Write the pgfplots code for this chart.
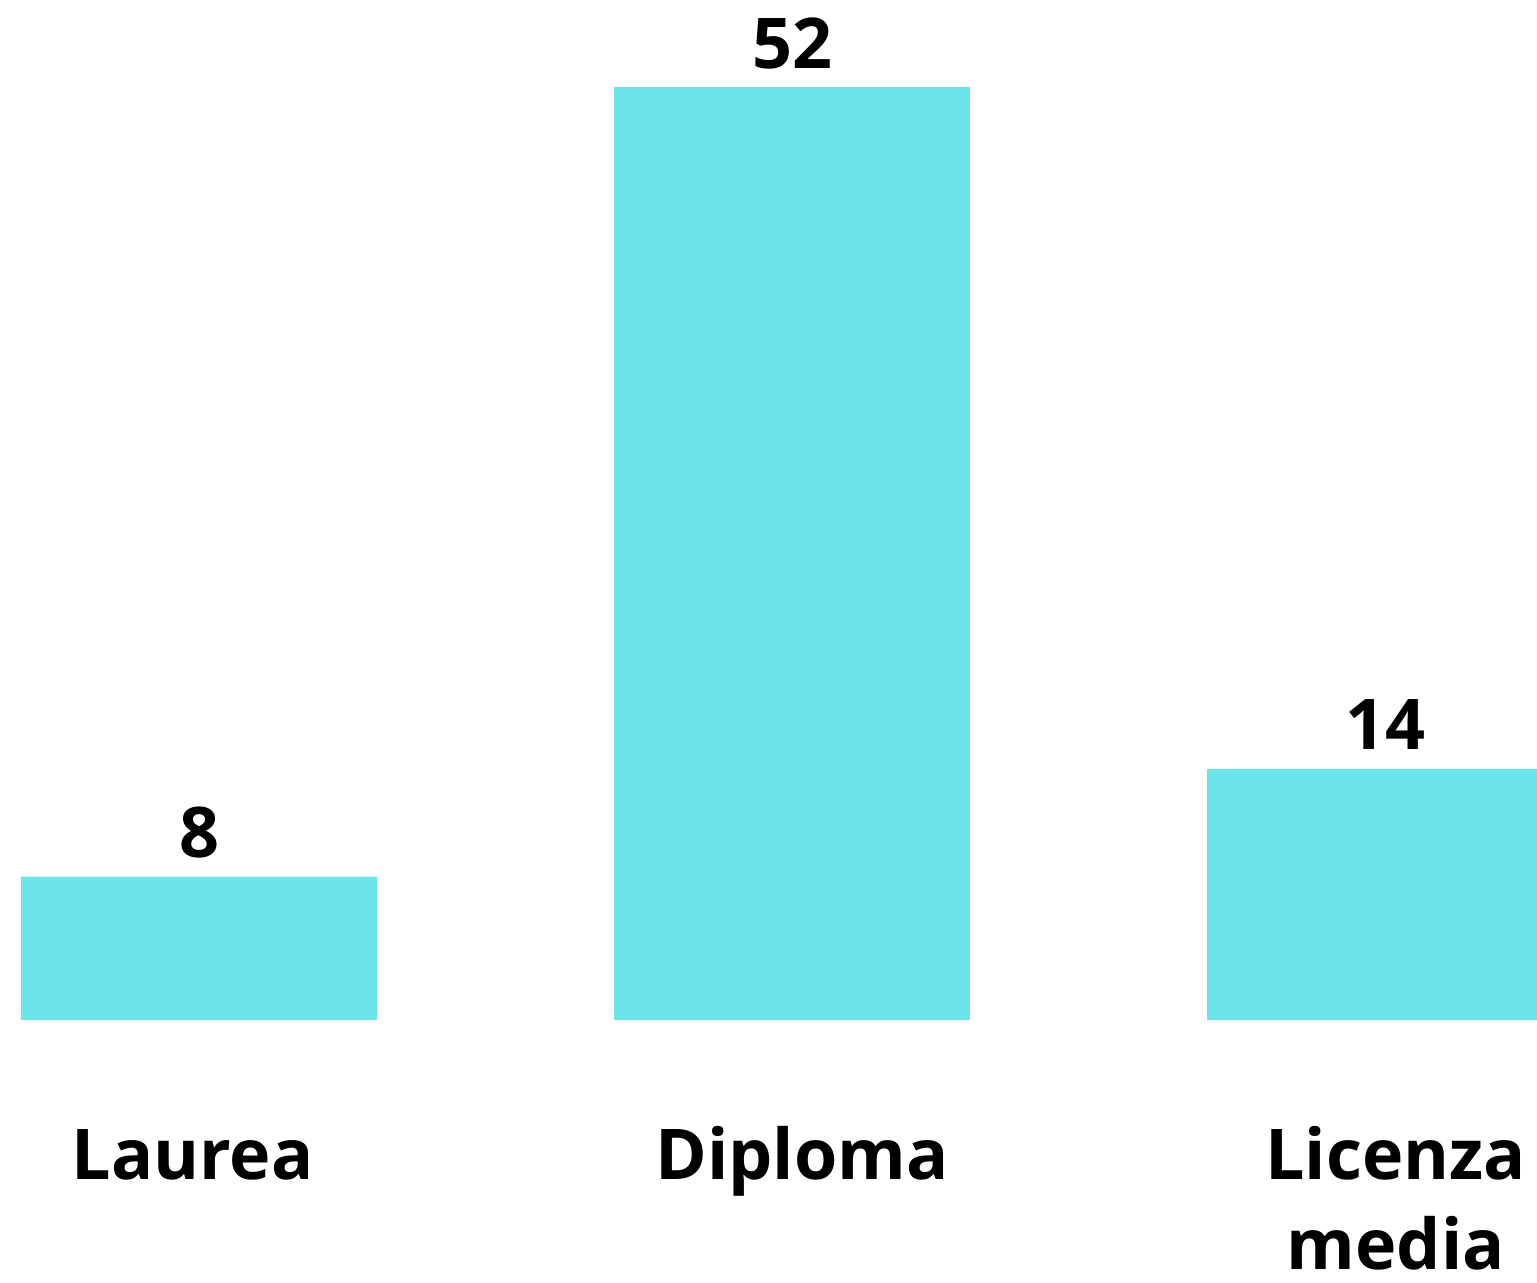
\documentclass[border=0pt]{standalone}
\usepackage{pgfplots}
\pgfplotsset{compat=1.18}
\usepackage{fontspec}
\setmainfont{Open Sans}[BoldFont={Open Sans Bold}]
\definecolor{barcyan}{HTML}{6CE5E8}

\begin{document}
\begin{tikzpicture}
\path[use as bounding box] (0,0) rectangle (768.5pt,641pt);
\clip (0,0) rectangle (768.5pt,641pt);
\begin{axis}[at={(0,0)},anchor=south west,scale only axis,
 width=768.5pt,height=641pt,
 xmin=-0.3356,xmax=2.2563,ymin=-14.60,ymax=56.86,
 hide axis,clip=false,
 ybar,bar width=0.6,
 /pgf/number format/assume math mode=true,
 nodes near coords,
 every node near coord/.append style={anchor=base,yshift=9.5pt,
  font=\fontsize{35}{44}\selectfont\bfseries,text=black}]
\addplot[fill=barcyan,draw=none] coordinates {(0,8) (1,52) (2,14)};
\node[anchor=base,font=\fontsize{35}{44}\selectfont\bfseries] at (axis cs:-0.011,-8.887) {Laurea};
\node[anchor=base,font=\fontsize{35}{44}\selectfont\bfseries] at (axis cs:1.017,-8.887) {Diploma};
\node[anchor=base,font=\fontsize{35}{44}\selectfont\bfseries] at (axis cs:2.018,-8.887) {Licenza};
\node[anchor=base,font=\fontsize{35}{44}\selectfont\bfseries] at (axis cs:2.018,-13.93) {media};
\end{axis}
\end{tikzpicture}
\end{document}
